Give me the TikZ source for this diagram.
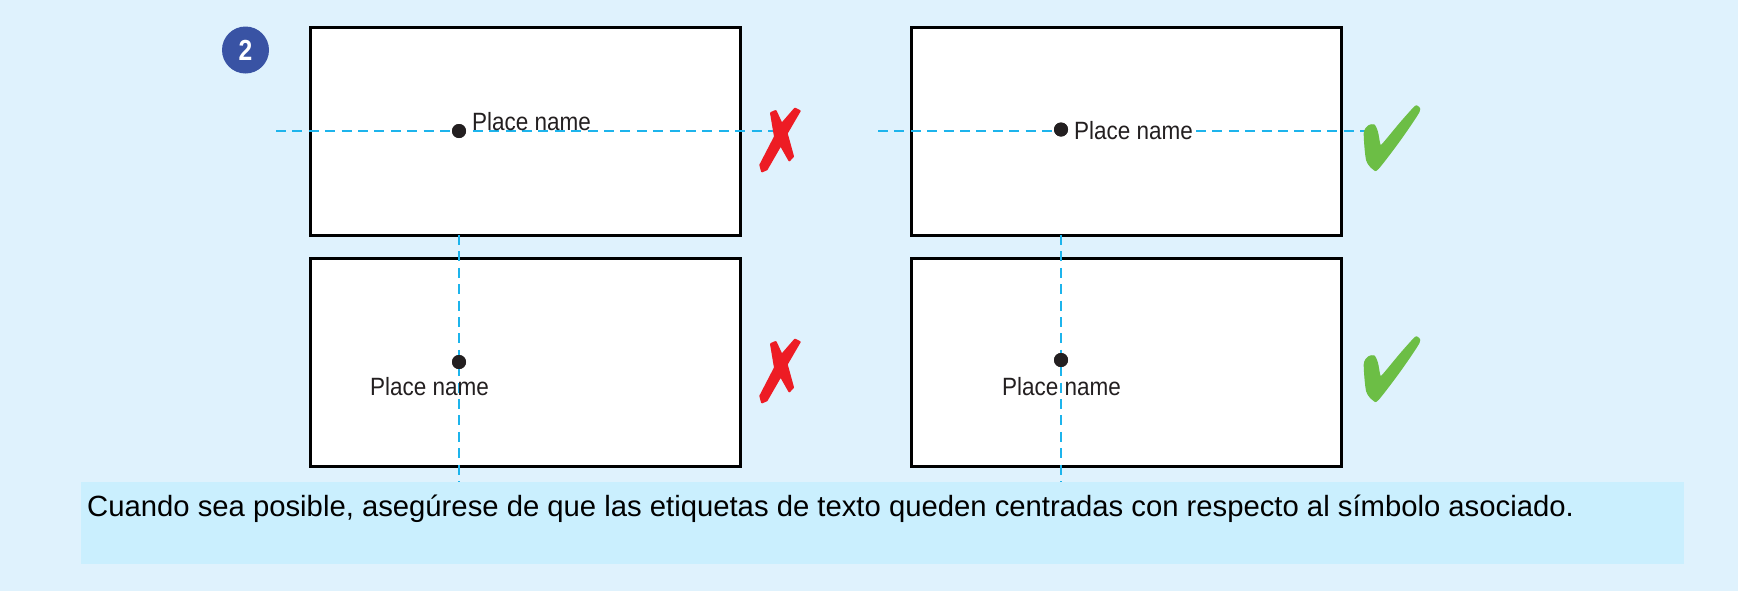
\documentclass[tikz,border=0pt]{standalone}
\usepackage{fontspec}
\setmainfont{Liberation Sans}
\newfontfamily\narrowfont[FakeStretch=0.9]{Liberation Sans}
\newfontfamily\badgefont[FakeStretch=0.85]{Liberation Sans Bold}
\definecolor{pagebg}{HTML}{DFF2FD}
\definecolor{bandbg}{HTML}{CAEFFE}
\definecolor{guide}{HTML}{1DB4EC}
\definecolor{crossred}{HTML}{ED1C24}
\definecolor{checkgreen}{HTML}{6CBE45}
\definecolor{badgeblue}{HTML}{3953A4}
\definecolor{inkdark}{HTML}{231F20}
\tikzset{
  mapbox/.style={draw=black,fill=white,line width=3pt,minimum width=430pt,minimum height=208pt,inner sep=0pt,outer sep=0pt},
  guideline/.style={draw=guide,line width=1.6pt,dash pattern=on 10pt off 6.4pt},
  placedot/.style={circle,fill=inkdark,minimum size=14pt,inner sep=0pt,outer sep=0pt},
  placelabel/.style={anchor=base west,inner sep=0pt,outer sep=0pt,text=inkdark,font=\narrowfont\fontsize{25}{25}\selectfont},
  crosspic/.pic={\begin{scope}[scale=1/3]
    \fill[crossred,draw=crossred,line width=2pt,line join=round]
      (93,69) -- (107,63) -- (125,102) -- (165,56) -- (179,63) -- (140,130) -- (159,199) -- (148,211) -- (122,165) -- (80,238) -- (66,244) -- (61,225) -- (105,140) -- cycle;
  \end{scope}},
  checkpic/.pic={\begin{scope}[scale=1/3]
    \fill[checkgreen,draw=checkgreen,line width=1.2pt] plot[smooth cycle,tension=0.45] coordinates {(200,48) (207,65) (150,150) (85,235) (70,237) (50,210) (43,130) (55,108) (72,105) (82,125) (90,165) (100,160) (150,100) (190,55)};
  \end{scope}}
}
\begin{document}
\begin{tikzpicture}[x=1pt,y=-1pt]
\useasboundingbox (0,0) rectangle (1738,590);
\fill[pagebg] (-1,-1) rectangle (1739,591);
\node[mapbox] (boxA) at (525,131) {};
\node[mapbox] (boxB) at (525,362) {};
\node[mapbox] (boxC) at (1126.5,131) {};
\node[mapbox] (boxD) at (1126.5,362) {};
\coordinate (a1) at (276,131);
\coordinate (a2) at (775,131);
\coordinate (b1) at (459,235);
\coordinate (b2) at (459,482);
\coordinate (c1) at (878,131);
\coordinate (c2) at (1196,131);
\coordinate (c3) at (1367,131);
\coordinate (d1) at (1061,235);
\coordinate (d2) at (1061,482);
\node[placedot] (dotA) at (459,131) {};
\node[placedot] (dotB) at (459,362) {};
\node[placedot] (dotC) at (1061,129.5) {};
\node[placedot] (dotD) at (1061,360) {};
\draw[guideline] (a1) -- (a2);
\draw[guideline] (b1) -- (b2);
\draw[guideline] (c1) -- (c1 -| dotC);
\draw[guideline] (c2) -- (c3);
\draw[guideline] (d1) -- (d2);
\node[placedot] at (dotA) {};
\node[placedot] at (dotB) {};
\node[placedot] at (dotC) {};
\node[placedot] at (dotD) {};
\node[placelabel] (labA) at (472,130) {Place name};
\node[placelabel] (labB) at (370,395) {Place name};
\node[placelabel] (labC) at (1074,139) {Place name};
\node[placelabel] (labD) at (1002,395) {Place name};
\pic at (740,90) {crosspic};
\pic at (740,321) {crosspic};
\pic at (1350,90) {checkpic};
\pic at (1350,321) {checkpic};
\node[circle,fill=badgeblue,minimum size=47pt,inner sep=0pt,text=white,font=\badgefont\fontsize{29}{29}\selectfont] (badge) at (245.5,50) {2};
\fill[bandbg] (81,482) rectangle (1684,564);
\node[anchor=base west,inner sep=0pt,text=black,font=\fontsize{29.26}{29.26}\selectfont] (caption) at (87,516) {Cuando sea posible, asegúrese de que las etiquetas de texto queden centradas con respecto al símbolo asociado.};
\end{tikzpicture}
\end{document}
